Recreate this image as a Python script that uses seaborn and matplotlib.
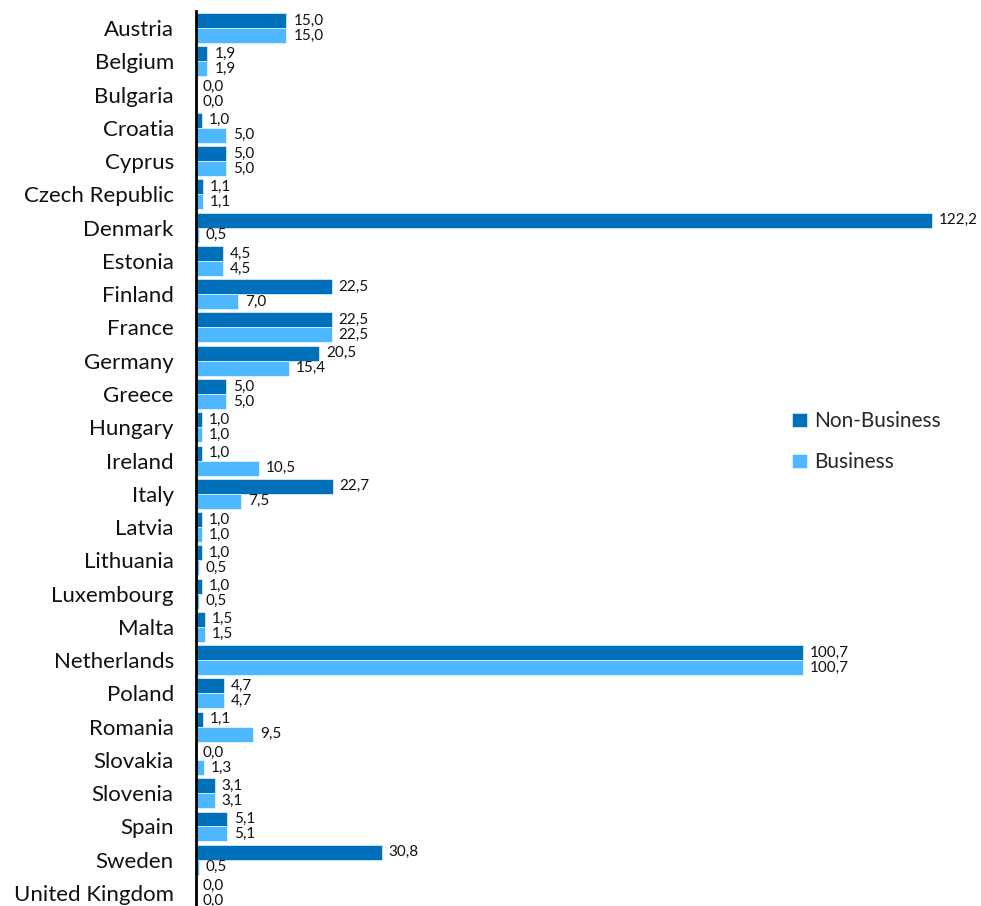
import numpy as np
import pandas as pd
import matplotlib
matplotlib.use("Agg")
import matplotlib.pyplot as plt
import seaborn as sns

countries = ["Austria", "Belgium", "Bulgaria", "Croatia", "Cyprus", "Czech Republic",
             "Denmark", "Estonia", "Finland", "France", "Germany", "Greece", "Hungary",
             "Ireland", "Italy", "Latvia", "Lithuania", "Luxembourg", "Malta",
             "Netherlands", "Poland", "Romania", "Slovakia", "Slovenia", "Spain",
             "Sweden", "United Kingdom"]
non_business = [15.0, 1.9, 0.0, 1.0, 5.0, 1.1, 122.2, 4.5, 22.5, 22.5, 20.5, 5.0, 1.0,
                1.0, 22.7, 1.0, 1.0, 1.0, 1.5, 100.7, 4.7, 1.1, 0.0, 3.1, 5.1, 30.8, 0.0]
business = [15.0, 1.9, 0.0, 5.0, 5.0, 1.1, 0.5, 4.5, 7.0, 22.5, 15.4, 5.0, 1.0,
            10.5, 7.5, 1.0, 0.5, 0.5, 1.5, 100.7, 4.7, 9.5, 1.3, 3.1, 5.1, 0.5, 0.0]
series_names = ["Non-Business", "Business"]
colors = ["#0070BA", "#4DB8FF"]

df = pd.DataFrame({
    "country": countries * 2,
    "value": non_business + business,
    "series": [series_names[0]] * len(countries) + [series_names[1]] * len(countries),
})

sns.set_theme(style="white")
plt.rcParams["font.family"] = ["Lato", "DejaVu Sans"]

fig = plt.figure(figsize=(9.81, 9.06), dpi=100)
ax = fig.add_axes([196 / 981, 0.0, (979 - 196) / 981, (906 - 11.4) / 906])

sns.barplot(data=df, y="country", x="value", hue="series", orient="h",
            palette=colors, saturation=1, width=0.9, gap=0, ax=ax, legend=True,
            edgecolor="white", linewidth=0.4)

for cont in ax.containers:
    vals = [r.get_width() for r in cont]
    ax.bar_label(cont, labels=[f"{v:.1f}".replace(".", ",") for v in vals],
                 padding=5, fontsize=11, color="#111111")

ax.set_xlim(0, 130)
ax.set_ylim(26.39, -0.5)
ax.set_xlabel("")
ax.set_ylabel("")
ax.set_xticks([])
ax.tick_params(axis="y", length=0, pad=16, labelsize=16, labelcolor="#111111")
for side in ["top", "right", "bottom"]:
    ax.spines[side].set_visible(False)
ax.spines["left"].set_color("black")
ax.spines["left"].set_linewidth(2)

handles, labels = ax.get_legend_handles_labels()
ax.legend(handles, labels, loc="upper left", bbox_to_anchor=(784 / 981, 1 - 403 / 906),
          bbox_transform=fig.transFigure, frameon=False, fontsize=15,
          handlelength=0.7, handleheight=0.7, handletextpad=0.35, labelspacing=1.0,
          borderaxespad=0)

fig.savefig("out.png", dpi=100)
